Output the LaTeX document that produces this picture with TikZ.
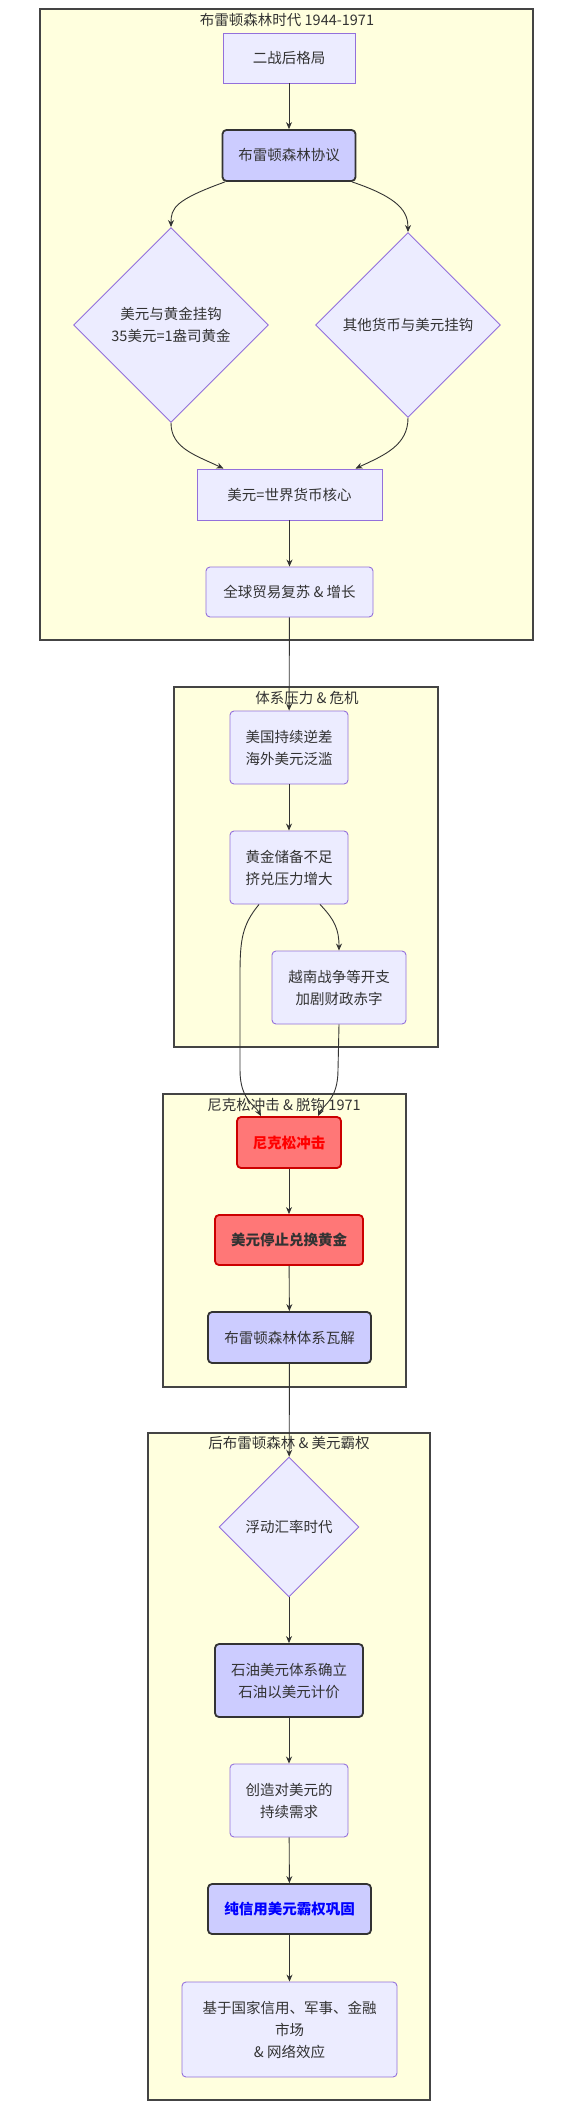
\documentclass[tikz,border=0pt]{standalone}
\usepackage{fontspec}
\setmainfont{Liberation Sans}
\newfontfamily\cjk{Noto Sans CJK SC}
\usetikzlibrary{arrows.meta,shapes.geometric}
\definecolor{nfill}{HTML}{ECECFF}
\definecolor{nstroke}{HTML}{9370DB}
\definecolor{cfill}{HTML}{FFFFDE}
\definecolor{cstroke}{HTML}{444444}
\definecolor{efill}{HTML}{CCCCFF}
\definecolor{rfill}{HTML}{FF7777}
\definecolor{rstroke}{HTML}{CC0000}
\definecolor{txt}{HTML}{333333}
\begin{document}
\begin{tikzpicture}[x=1pt,y=-1pt,
  every node/.style={font=\cjk\fontsize{14.5}{22}\selectfont, text=txt, align=center, inner sep=0pt},
  cluster/.style={draw=cstroke, fill=cfill, line width=1.4pt},
  ctitle/.style={font=\cjk\fontsize{14.5}{17}\selectfont},
  plainbox/.style={draw=nstroke, fill=nfill, line width=0.9pt},
  softbox/.style={draw=nstroke, fill=nfill, line width=0.9pt, rounded corners=4pt},
  keybox/.style={draw=txt, fill=efill, line width=1.8pt, rounded corners=4pt},
  redbox/.style={draw=rstroke, fill=rfill, line width=1.8pt, rounded corners=4pt},
  decision/.style={diamond, draw=nstroke, fill=nfill, line width=0.9pt, aspect=1},
  link/.style={draw=txt, line width=0.9pt, -{Stealth[length=7pt,width=6pt]}},
  boldtext/.style={font=\cjk\bfseries\fontsize{14.5}{17}\selectfont}
]
\useasboundingbox[fill=white] (0,0) rectangle (578,2108);

% clusters
\draw[cluster] (40,9) rectangle (533,640);
\node[ctitle] (t1) at (287,20) {布雷顿森林时代 1944-1971};
\draw[cluster] (174,687) rectangle (438,1047);
\node[ctitle] (t2) at (307,698) {体系压力 \& 危机};
\draw[cluster] (163,1094) rectangle (406,1387);
\node[ctitle] (t3) at (284,1105) {尼克松冲击 \& 脱钩 1971};
\draw[cluster] (148,1433) rectangle (430,2100);
\node[ctitle] (t4) at (289,1443) {后布雷顿森林 \& 美元霸权};

% cluster 1
\node[plainbox, minimum width=132pt, minimum height=50pt] (a) at (289,58) {二战后格局};
\node[keybox, minimum width=133pt, minimum height=51pt] (b) at (289,155.5) {布雷顿森林协议};
\node[decision, minimum width=195pt, minimum height=195pt] (c) at (171,325) {美元与黄金挂钩\\35美元=1盎司黄金};
\node[decision, minimum width=185pt, minimum height=185pt] (d) at (408,325) {其他货币与美元挂钩};
\node[plainbox, minimum width=185pt, minimum height=51pt] (e) at (289.5,494.5) {美元=世界货币核心};
\node[softbox, minimum width=167pt, minimum height=50pt] (f) at (289.5,592) {全球贸易复苏 \& 增长};

% cluster 2
\node[softbox, minimum width=118pt, minimum height=73pt] (g) at (289,747.5) {美国持续逆差\\海外美元泛滥};
\node[softbox, minimum width=118pt, minimum height=73pt] (h) at (289,867.5) {黄金储备不足\\挤兑压力增大};
\node[softbox, minimum width=134pt, minimum height=73pt] (i) at (339,987.5) {越南战争等开支\\加剧财政赤字};

% cluster 3
\node[redbox, boldtext, text=red, minimum width=104pt, minimum height=51pt] (j) at (289,1142.5) {尼克松冲击};
\node[redbox, boldtext, minimum width=148pt, minimum height=50pt] (k) at (289,1240) {美元停止兑换黄金};
\node[keybox, minimum width=163pt, minimum height=51pt] (l) at (289.5,1337.5) {布雷顿森林体系瓦解};

% cluster 4
\node[decision, minimum width=140pt, minimum height=140pt] (m) at (289,1527) {浮动汇率时代};
\node[keybox, minimum width=148pt, minimum height=73pt] (n) at (289,1680.5) {石油美元体系确立\\石油以美元计价};
\node[softbox, minimum width=118pt, minimum height=73pt] (o) at (289,1800.5) {创造对美元的\\持续需求};
\node[keybox, boldtext, text=blue, minimum width=163pt, minimum height=50pt] (p) at (289.5,1909) {纯信用美元霸权巩固};
\node[softbox, minimum width=215pt, minimum height=95pt] (q) at (289.5,2029.5) {基于国家信用、军事、金融\\市场\\\& 网络效应};

% edges
\draw[link] (a) -- (b);
\draw[link] ([xshift=-64pt]b.south) .. controls (175,200) and (171,208) .. (c.north);
\draw[link] ([xshift=63pt]b.south) .. controls (400,198) and (408,212) .. (d.north);
\draw[link] (c.south) .. controls (171,448) and (195,455) .. ([xshift=-66pt]e.north);
\draw[link] (d.south) .. controls (408,445) and (385,455) .. ([xshift=66pt]e.north);
\draw[link] (e) -- (f);
\draw[link] (f) -- (g);
\draw[link] (g) -- (h);
\draw[link] ([xshift=31pt]h.south) .. controls (335,920) and (339,930) .. (i.north);
\draw[link] ([xshift=-30pt]h.south) .. controls (242,925) and (240,940) .. (240,975) -- (240,1070) .. controls (240,1100) and (255,1105) .. ([xshift=-28pt]j.north);
\draw[link] (i.south) -- (338,1070) .. controls (338,1100) and (323,1105) .. ([xshift=29pt]j.north);
\draw[link] (j) -- (k);
\draw[link] (k) -- (l);
\draw[link] (l) -- (m);
\draw[link] (m) -- (n);
\draw[link] (n) -- (o);
\draw[link] (o) -- (p);
\draw[link] (p) -- (q);
\end{tikzpicture}
\end{document}
